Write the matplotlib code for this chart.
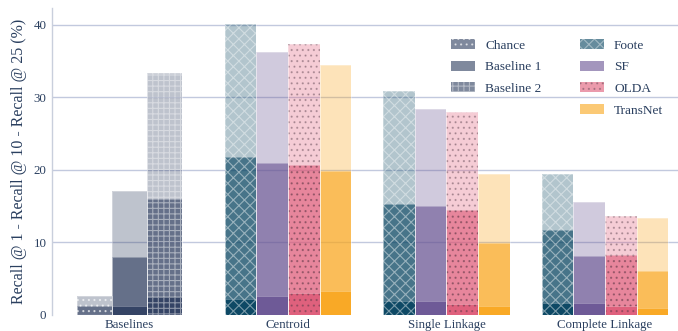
import matplotlib
matplotlib.use('Agg')
import matplotlib.pyplot as plt
from matplotlib.colors import to_rgba
from matplotlib.patches import Patch

plt.rcParams['font.family'] = ['Liberation Serif', 'DejaVu Serif']
plt.rcParams['hatch.linewidth'] = 0.8

categories = ['Baselines', 'Centroid', 'Single Linkage', 'Complete Linkage']

# baselines only live in the first category
baseline_names = ['Chance', 'Baseline 1', 'Baseline 2']
baseline_r1 = [0.1, 1.2, 2.6]
baseline_r10 = [1.2, 7.9, 16.0]
baseline_r25 = [2.6, 17.1, 33.3]

# methods over Centroid, Single Linkage, Complete Linkage
method_names = ['Foote', 'SF', 'OLDA', 'TransNet']
foote_r1 = [2.1, 1.9, 1.6]
foote_r10 = [21.7, 15.3, 11.7]
foote_r25 = [40.1, 30.9, 19.4]
sf_r1 = [2.6, 1.9, 1.6]
sf_r10 = [20.9, 15.0, 8.1]
sf_r25 = [36.2, 28.3, 15.5]
olda_r1 = [3.0, 1.5, 1.2]
olda_r10 = [20.6, 14.4, 8.2]
olda_r25 = [37.4, 28.0, 13.6]
transnet_r1 = [3.2, 1.2, 0.9]
transnet_r10 = [19.8, 9.8, 6.0]
transnet_r25 = [34.4, 19.4, 13.3]

yticks = [0, 10, 20, 30, 40]

text_color = '#2a3f5f'
grid_color = '#c2c9de'
layer_alpha = [0.3, 0.6, 0.8]  # r25, r10, r1

styles = {
    'Chance':     dict(color='#2a3a5c', hatch='...', hc=(1, 1, 1, 0.55)),
    'Baseline 1': dict(color='#2a3a5c', hatch=None, hc=(1, 1, 1, 0)),
    'Baseline 2': dict(color='#2a3a5c', hatch='+++', hc=(1, 1, 1, 0.4)),
    'Foote':      dict(color='#003f5c', hatch='xxx', hc=(1, 1, 1, 0.4)),
    'SF':         dict(color='#665191', hatch=None, hc=(1, 1, 1, 0)),
    'OLDA':       dict(color='#de5876', hatch='...', hc=(0.35, 0.25, 0.3, 0.35)),
    'TransNet':   dict(color='#f9a51a', hatch=None, hc=(1, 1, 1, 0)),
}

method_r1 = [foote_r1, sf_r1, olda_r1, transnet_r1]
method_r10 = [foote_r10, sf_r10, olda_r10, transnet_r10]
method_r25 = [foote_r25, sf_r25, olda_r25, transnet_r25]

fig = plt.figure(figsize=(6.78, 3.31), dpi=100)
ax = fig.add_axes([52 / 678, 16.5 / 331, 626 / 678, 306.5 / 331])


def draw(xs, layers, width, name):
    st = styles[name]
    for vals, a in zip(layers, layer_alpha):
        ax.bar(xs, vals, width=width, color=to_rgba(st['color'], a),
               edgecolor=st['hc'], hatch=st['hatch'], linewidth=0, zorder=2)
        # faint light outline like the original
        ax.bar(xs, vals, width=width, fill=False, edgecolor=(1, 1, 1, 0.35),
               linewidth=0.6, zorder=3)


bw = 0.219
for i, name in enumerate(baseline_names):
    draw([(i - 1) * bw], [[baseline_r25[i]], [baseline_r10[i]], [baseline_r1[i]]], bw, name)

mw = 0.2
xs = [1, 2, 3]
for j, name in enumerate(method_names):
    off = (j - 1.5) * mw
    draw([x + off for x in xs], [method_r25[j], method_r10[j], method_r1[j]], mw, name)

ax.set_xlim(-0.489, 3.461)
ax.set_ylim(0, 42.3)
ax.set_xticks(range(len(categories)))
ax.set_xticklabels(categories)
ax.set_yticks(yticks)
ax.tick_params(axis='both', length=0, labelsize=9.3, colors=text_color)
ax.tick_params(axis='x', pad=3)
ax.tick_params(axis='y', pad=4)
for y in yticks[1:]:
    ax.axhline(y, color=grid_color, lw=1, zorder=1)
for s in ['top', 'right', 'bottom']:
    ax.spines[s].set_visible(False)
ax.spines['left'].set_color('#c9cfdc')
ax.spines['left'].set_linewidth(1)

ax.set_ylabel('Recall @ 1 - Recall @ 10 - Recall @ 25 (%)', fontsize=11.5,
              color=text_color, va='center')
ax.yaxis.set_label_coords(-33 / 626, 0.5)

handles = []
labels = []
for name in baseline_names + [None] + method_names:
    if name is None:
        handles.append(Patch(facecolor='none', edgecolor='none'))
        labels.append('')
        continue
    st = styles[name]
    handles.append(Patch(facecolor=to_rgba(st['color'], 0.6), edgecolor=st['hc'],
                         hatch=st['hatch'], linewidth=0))
    labels.append(name)

ax.legend(handles, labels, ncol=2, frameon=False, loc='upper left',
          bbox_to_anchor=(451 / 678, 1 - 39 / 331), bbox_transform=fig.transFigure,
          borderaxespad=0, borderpad=0, fontsize=9.6, labelcolor=text_color,
          handlelength=1.8, handleheight=0.75, handletextpad=0.75,
          labelspacing=0.69, columnspacing=2.9)

fig.savefig('out.png', dpi=100)
